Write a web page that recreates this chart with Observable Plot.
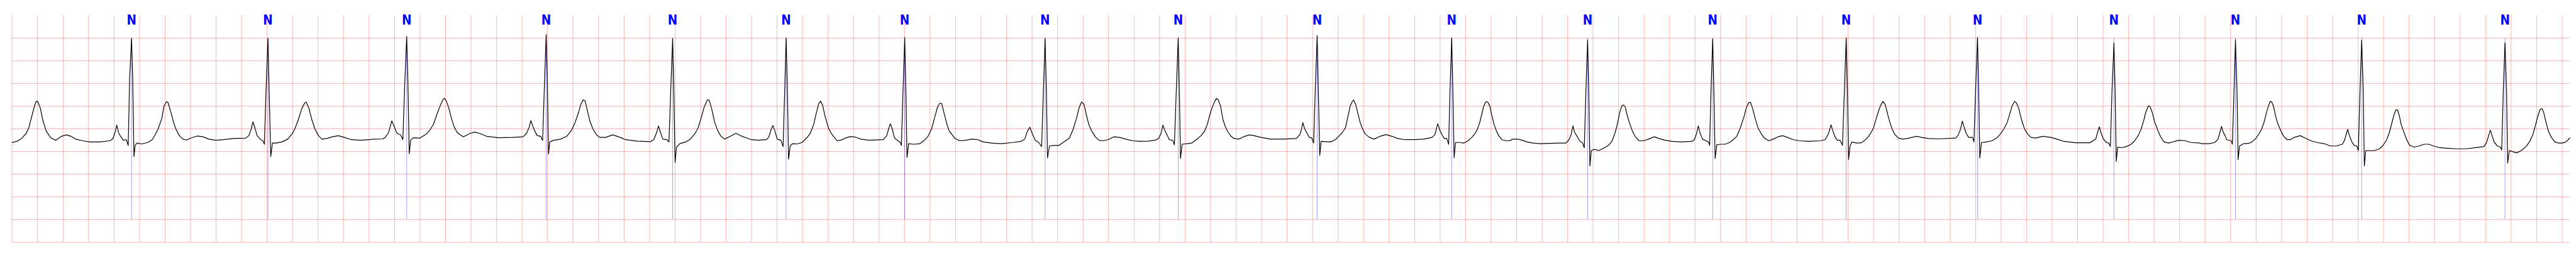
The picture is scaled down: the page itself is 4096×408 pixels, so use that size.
<!DOCTYPE html>
<html>
<head>
<meta charset="utf-8">
<script src="https://cdn.jsdelivr.net/npm/d3@7"></script>
<script src="https://cdn.jsdelivr.net/npm/@observablehq/plot@0.6"></script>
<style>
  html, body { margin: 0; padding: 0; background: #fff; overflow: hidden; }
  #chart svg { display: block; }
</style>
</head>
<body>
<div id="chart"></div>
<script>
// ECG strip: time in seconds, amplitude in mV
const beatTimes = [0.937, 2.007, 3.095, 4.189, 5.181, 6.071, 7.001, 8.102, 9.146, 10.236, 11.291, 12.357, 13.338, 14.385, 15.415, 16.485, 17.438, 18.428, 19.552];
const beatLabels = ["N","N","N","N","N","N","N","N","N","N","N","N","N","N","N","N","N","N","N"];

// grid tick positions (0.2 s, 0.5 mV)
const xGrid = d3.range(0, 101).map(i => i * 0.2);
const yGrid = [-2.5, -2.0, -1.5, -1.0, -0.5, 0.0, 0.5, 1.0, 1.5, 2.0];

const seg1 = [[0.000,-0.302],[0.037,-0.277],[0.074,-0.214],[0.111,-0.101],[0.130,0.013],[0.157,0.302],[0.176,0.504],[0.190,0.612],[0.203,0.592],[0.222,0.453],[0.240,0.202],[0.268,-0.050],[0.305,-0.202],[0.342,-0.252],[0.388,-0.164],[0.425,-0.134],[0.462,-0.164],[0.499,-0.227],[0.555,-0.264],[0.610,-0.290],[0.684,-0.290],[0.767,-0.264],[0.791,-0.214],[0.808,-0.076],[0.821,0.081],[0.837,-0.101],[0.854,-0.176],[0.872,-0.252],[0.896,-0.239],[0.911,-0.365],[0.922,1.108],[0.937,1.990],[0.946,1.108],[0.956,-0.610],[0.965,-0.365],[0.980,-0.315],[1.017,-0.333],[1.063,-0.302],[1.100,-0.239],[1.128,-0.101],[1.146,0.000],[1.174,0.227],[1.192,0.504],[1.211,0.597],[1.223,0.579],[1.247,0.353],[1.266,0.151],[1.284,0.000],[1.312,-0.151],[1.340,-0.227],[1.367,-0.247],[1.404,-0.202],[1.451,-0.159],[1.497,-0.176],[1.543,-0.227],[1.598,-0.252],[1.663,-0.239],[1.737,-0.214],[1.830,-0.207],[1.857,-0.151],[1.876,0.000],[1.889,0.156],[1.904,0.025],[1.922,-0.151],[1.950,-0.239],[1.968,-0.264],[1.979,-0.340],[1.992,0.856],[2.007,1.995],[2.016,0.856],[2.029,-0.610],[2.042,-0.315],[2.070,-0.315],[2.116,-0.290],[2.162,-0.227],[2.199,-0.101],[2.218,0.000],[2.245,0.202],[2.273,0.453],[2.295,0.567],[2.306,0.592],[2.328,0.453],[2.351,0.202],[2.375,0.000],[2.403,-0.151],[2.430,-0.227],[2.467,-0.214],[2.513,-0.176],[2.559,-0.151],[2.606,-0.189],[2.661,-0.239],[2.735,-0.252],[2.805,-0.239]];

const seg2 = [[2.816,-0.232],[2.908,-0.222],[2.927,-0.189],[2.954,-0.076],[2.978,0.176],[3.001,0.025],[3.019,-0.101],[3.047,-0.131],[3.065,-0.239],[3.078,0.856],[3.095,2.040],[3.104,1.108],[3.115,-0.549],[3.126,-0.252],[3.148,-0.196],[3.195,-0.207],[3.250,-0.113],[3.278,-0.025],[3.305,0.101],[3.333,0.327],[3.361,0.529],[3.379,0.642],[3.392,0.673],[3.407,0.605],[3.426,0.453],[3.444,0.252],[3.466,0.050],[3.490,-0.076],[3.518,-0.139],[3.540,-0.176],[3.592,-0.101],[3.629,-0.071],[3.666,-0.101],[3.721,-0.164],[3.814,-0.196],[3.925,-0.189],[4.008,-0.176],[4.035,-0.101],[4.054,0.025],[4.069,0.181],[4.085,0.050],[4.100,-0.050],[4.119,-0.151],[4.146,-0.164],[4.161,-0.259],[4.174,0.856],[4.189,2.078],[4.198,1.108],[4.207,-0.554],[4.217,-0.290],[4.248,-0.252],[4.303,-0.227],[4.350,-0.164],[4.387,-0.038],[4.414,0.126],[4.442,0.353],[4.461,0.542],[4.479,0.637],[4.494,0.617],[4.512,0.403],[4.531,0.176],[4.553,0.013],[4.581,-0.126],[4.608,-0.189],[4.655,-0.189],[4.710,-0.134],[4.756,-0.176],[4.812,-0.239],[4.904,-0.272],[5.006,-0.282],[5.033,-0.239],[5.056,-0.076],[5.070,0.063],[5.085,-0.076],[5.104,-0.227],[5.135,-0.239],[5.152,-0.290],[5.166,0.856],[5.181,1.990],[5.190,0.856],[5.200,-0.743],[5.211,-0.403],[5.237,-0.327],[5.283,-0.290],[5.320,-0.227],[5.357,-0.101],[5.381,0.025],[5.403,0.227],[5.431,0.504],[5.455,0.642],[5.468,0.630],[5.486,0.453],[5.510,0.151],[5.536,-0.050],[5.560,-0.164],[5.588,-0.227],[5.634,-0.164],[5.677,-0.101]];

const seg3 = [[5.724,-0.164],[5.761,-0.202],[5.798,-0.239],[5.853,-0.252],[5.918,-0.239],[5.936,-0.176],[5.955,0.000],[5.968,0.071],[5.983,-0.050],[6.001,-0.227],[6.029,-0.252],[6.047,-0.390],[6.060,0.856],[6.071,2.003],[6.081,0.856],[6.090,-0.668],[6.103,-0.378],[6.121,-0.327],[6.158,-0.333],[6.195,-0.302],[6.232,-0.202],[6.260,-0.101],[6.288,0.101],[6.306,0.327],[6.325,0.542],[6.341,0.612],[6.356,0.529],[6.374,0.302],[6.389,0.151],[6.404,0.013],[6.422,-0.088],[6.445,-0.176],[6.472,-0.264],[6.500,-0.252],[6.537,-0.202],[6.574,-0.171],[6.611,-0.181],[6.657,-0.227],[6.722,-0.252],[6.833,-0.239],[6.860,-0.151],[6.875,0.000],[6.888,0.113],[6.903,0.000],[6.921,-0.202],[6.944,-0.252],[6.966,-0.302],[6.975,-0.365],[6.988,0.856],[7.001,2.015],[7.010,0.856],[7.019,-0.630],[7.032,-0.327],[7.073,-0.340],[7.119,-0.327],[7.156,-0.252],[7.184,-0.164],[7.212,0.000],[7.236,0.252],[7.258,0.479],[7.276,0.562],[7.291,0.559],[7.309,0.353],[7.332,0.101],[7.350,-0.050],[7.372,-0.126],[7.396,-0.214],[7.433,-0.264],[7.480,-0.252],[7.526,-0.227],[7.572,-0.239],[7.618,-0.290],[7.683,-0.315],[7.757,-0.327],[7.849,-0.302],[7.914,-0.277],[7.942,-0.227],[7.964,-0.050],[7.982,0.035],[8.001,-0.101],[8.025,-0.252],[8.052,-0.302],[8.075,-0.390],[8.089,0.856],[8.102,1.990],[8.112,0.856],[8.121,-0.642],[8.136,-0.378],[8.173,-0.365],[8.210,-0.365],[8.256,-0.277],[8.293,-0.202],[8.320,-0.025],[8.348,0.227],[8.370,0.479],[8.389,0.592],[8.407,0.542],[8.426,0.302],[8.444,0.101],[8.468,-0.050],[8.496,-0.176],[8.524,-0.252],[8.548,-0.264]];

const seg4 = [[8.558,-0.264],[8.595,-0.239],[8.641,-0.176],[8.687,-0.189],[8.734,-0.227],[8.789,-0.264],[8.845,-0.277],[8.909,-0.272],[8.965,-0.252],[8.992,-0.214],[9.011,-0.101],[9.026,0.081],[9.039,-0.025],[9.057,-0.126],[9.076,-0.239],[9.103,-0.252],[9.116,-0.353],[9.131,0.856],[9.146,2.003],[9.155,0.856],[9.164,-0.650],[9.177,-0.340],[9.214,-0.327],[9.251,-0.315],[9.288,-0.239],[9.325,-0.151],[9.353,-0.050],[9.375,0.101],[9.393,0.302],[9.412,0.466],[9.430,0.592],[9.445,0.668],[9.460,0.642],[9.478,0.504],[9.497,0.202],[9.519,0.025],[9.538,-0.076],[9.560,-0.164],[9.584,-0.214],[9.621,-0.227],[9.658,-0.176],[9.704,-0.134],[9.741,-0.151],[9.796,-0.189],[9.870,-0.227],[9.963,-0.227],[10.073,-0.214],[10.101,-0.126],[10.114,0.000],[10.123,0.139],[10.138,0.000],[10.157,-0.101],[10.175,-0.189],[10.194,-0.202],[10.208,-0.315],[10.221,0.856],[10.236,2.053],[10.245,0.856],[10.256,-0.584],[10.267,-0.277],[10.304,-0.282],[10.341,-0.290],[10.378,-0.239],[10.406,-0.164],[10.434,-0.076],[10.458,0.025],[10.476,0.252],[10.495,0.504],[10.513,0.610],[10.522,0.635],[10.539,0.529],[10.554,0.353],[10.572,0.151],[10.591,0.000],[10.613,-0.113],[10.646,-0.189],[10.683,-0.227],[10.729,-0.164],[10.776,-0.126],[10.822,-0.164],[10.868,-0.214],[10.924,-0.239],[10.997,-0.239],[11.071,-0.227],[11.136,-0.189],[11.160,-0.126],[11.173,0.025],[11.182,0.113],[11.197,-0.025],[11.216,-0.139],[11.234,-0.214],[11.252,-0.214],[11.267,-0.340],[11.278,0.856],[11.291,2.003],[11.300,0.856],[11.310,-0.635],[11.321,-0.302],[11.358,-0.302],[11.385,-0.315],[11.419,-0.264]];

const seg5 = [[11.448,-0.189],[11.475,-0.101],[11.494,0.000],[11.512,0.151],[11.525,0.302],[11.540,0.479],[11.555,0.579],[11.564,0.600],[11.577,0.579],[11.592,0.479],[11.605,0.302],[11.623,0.101],[11.642,-0.050],[11.660,-0.151],[11.684,-0.239],[11.716,-0.264],[11.743,-0.264],[11.771,-0.227],[11.808,-0.227],[11.845,-0.252],[11.882,-0.290],[11.928,-0.315],[11.984,-0.327],[12.057,-0.322],[12.131,-0.315],[12.187,-0.315],[12.205,-0.264],[12.224,-0.164],[12.242,0.063],[12.255,-0.076],[12.276,-0.176],[12.298,-0.277],[12.316,-0.302],[12.331,-0.416],[12.344,0.856],[12.357,1.960],[12.366,0.856],[12.375,-0.819],[12.386,-0.479],[12.409,-0.453],[12.446,-0.479],[12.483,-0.428],[12.520,-0.365],[12.547,-0.277],[12.571,-0.101],[12.590,0.101],[12.608,0.353],[12.627,0.516],[12.640,0.524],[12.652,0.479],[12.667,0.302],[12.686,0.126],[12.708,-0.050],[12.732,-0.176],[12.760,-0.264],[12.797,-0.264],[12.834,-0.227],[12.880,-0.176],[12.917,-0.214],[12.963,-0.252],[13.018,-0.277],[13.092,-0.290],[13.176,-0.277],[13.194,-0.239],[13.212,-0.101],[13.225,0.063],[13.240,-0.101],[13.258,-0.227],[13.286,-0.264],[13.305,-0.290],[13.314,-0.365],[13.325,0.856],[13.338,1.985],[13.347,0.856],[13.357,-0.655],[13.370,-0.353],[13.397,-0.340],[13.434,-0.340],[13.471,-0.302],[13.499,-0.239],[13.527,-0.164],[13.545,-0.050],[13.564,0.101],[13.582,0.252],[13.601,0.453],[13.619,0.574],[13.634,0.587],[13.651,0.453],[13.669,0.252],[13.693,0.025],[13.717,-0.101],[13.743,-0.202],[13.776,-0.264],[13.813,-0.227],[13.850,-0.176],[13.887,-0.151],[13.924,-0.189],[13.970,-0.239],[14.016,-0.264],[14.090,-0.277],[14.183,-0.264],[14.220,-0.239],[14.247,-0.101],[14.266,0.088],[14.281,-0.050]];

const seg6 = [[14.297,-0.176],[14.315,-0.252],[14.337,-0.252],[14.356,-0.365],[14.371,0.856],[14.385,2.003],[14.395,0.856],[14.404,-0.675],[14.415,-0.378],[14.430,-0.290],[14.467,-0.315],[14.504,-0.307],[14.531,-0.252],[14.559,-0.176],[14.581,-0.076],[14.600,0.025],[14.618,0.202],[14.637,0.378],[14.655,0.516],[14.674,0.605],[14.692,0.529],[14.711,0.315],[14.729,0.126],[14.748,-0.025],[14.766,-0.121],[14.794,-0.202],[14.827,-0.227],[14.864,-0.214],[14.901,-0.189],[14.938,-0.164],[14.975,-0.189],[15.030,-0.214],[15.113,-0.222],[15.243,-0.202],[15.261,-0.151],[15.280,-0.025],[15.296,0.171],[15.311,0.025],[15.326,-0.101],[15.345,-0.189],[15.376,-0.189],[15.387,-0.290],[15.400,0.856],[15.415,2.015],[15.424,0.856],[15.433,-0.642],[15.446,-0.302],[15.483,-0.290],[15.529,-0.264],[15.566,-0.202],[15.598,-0.101],[15.622,0.000],[15.646,0.126],[15.668,0.327],[15.686,0.504],[15.705,0.605],[15.720,0.574],[15.738,0.453],[15.760,0.202],[15.783,0.000],[15.807,-0.113],[15.834,-0.189],[15.871,-0.202],[15.927,-0.164],[15.991,-0.189],[16.037,-0.227],[16.093,-0.277],[16.185,-0.307],[16.296,-0.307],[16.342,-0.227],[16.357,-0.076],[16.370,0.045],[16.385,-0.101],[16.403,-0.227],[16.426,-0.302],[16.444,-0.315],[16.457,-0.390],[16.470,0.856],[16.485,1.889],[16.494,0.856],[16.503,-0.718],[16.514,-0.403],[16.546,-0.416],[16.583,-0.390],[16.620,-0.340],[16.647,-0.264],[16.675,-0.151],[16.699,0.000],[16.718,0.176],[16.736,0.378],[16.755,0.504],[16.767,0.499],[16.786,0.353],[16.804,0.151],[16.828,-0.025],[16.851,-0.176],[16.878,-0.290],[16.915,-0.315],[16.961,-0.277],[16.998,-0.252],[17.045,-0.264],[17.091,-0.302],[17.161,-0.315]];

const seg7 = [[17.172,-0.327],[17.229,-0.327],[17.276,-0.302],[17.301,-0.227],[17.314,-0.101],[17.329,0.055],[17.342,-0.076],[17.357,-0.151],[17.370,-0.239],[17.404,-0.264],[17.414,-0.340],[17.427,0.856],[17.438,1.965],[17.450,0.856],[17.459,-0.680],[17.470,-0.378],[17.502,-0.327],[17.540,-0.322],[17.568,-0.290],[17.597,-0.214],[17.625,-0.101],[17.644,0.000],[17.663,0.151],[17.681,0.353],[17.697,0.504],[17.710,0.605],[17.723,0.592],[17.738,0.479],[17.753,0.277],[17.772,0.101],[17.791,-0.025],[17.813,-0.151],[17.842,-0.239],[17.870,-0.239],[17.898,-0.189],[17.946,-0.151],[17.983,-0.202],[18.030,-0.264],[18.078,-0.302],[18.134,-0.327],[18.181,-0.378],[18.228,-0.378],[18.276,-0.340],[18.294,-0.252],[18.308,-0.101],[18.319,-0.013],[18.332,-0.151],[18.351,-0.290],[18.370,-0.365],[18.389,-0.378],[18.402,-0.479],[18.415,0.856],[18.428,1.952],[18.440,0.856],[18.449,-0.819],[18.460,-0.479],[18.492,-0.479],[18.530,-0.479],[18.568,-0.441],[18.596,-0.365],[18.624,-0.239],[18.643,-0.101],[18.662,0.101],[18.681,0.302],[18.696,0.416],[18.709,0.416],[18.722,0.302],[18.737,0.101],[18.756,-0.050],[18.779,-0.227],[18.804,-0.365],[18.841,-0.403],[18.879,-0.378],[18.917,-0.340],[18.954,-0.340],[18.992,-0.378],[19.039,-0.416],[19.096,-0.428],[19.171,-0.441],[19.247,-0.441],[19.322,-0.416],[19.388,-0.390],[19.407,-0.302],[19.426,-0.126],[19.437,-0.030],[19.450,-0.151],[19.469,-0.302],[19.492,-0.378],[19.515,-0.403],[19.526,-0.466],[19.539,0.856],[19.552,1.894],[19.564,0.856],[19.573,-0.756],[19.586,-0.479],[19.614,-0.504],[19.643,-0.529],[19.680,-0.479],[19.718,-0.390],[19.746,-0.277],[19.771,-0.126],[19.793,0.101],[19.812,0.302],[19.827,0.428],[19.841,0.448],[19.854,0.378],[19.873,0.151],[19.892,-0.050],[19.916,-0.189],[19.944,-0.290],[19.973,-0.315],[20.001,-0.315],[20.029,-0.290],[20.061,-0.202]];

const trace = [...seg1, ...seg2, ...seg3, ...seg4, ...seg5, ...seg6, ...seg7];

const chart = Plot.plot({
  width: 4096,
  height: 408,
  marginLeft: 18.7,
  marginRight: 10,
  marginTop: 23.9,
  marginBottom: 23.9,
  style: {background: "white"},
  x: {domain: [0, 20.062], axis: null},
  y: {domain: [-2.5, 2.5], axis: null},
  marks: [
    Plot.ruleX(xGrid, {stroke: "red", strokeOpacity: 0.3, strokeWidth: 1}),
    Plot.ruleY(yGrid, {stroke: "red", strokeOpacity: 0.3, strokeWidth: 1}),
    Plot.ruleX(beatTimes, {y1: -2, y2: 2, stroke: "blue", strokeOpacity: 0.55, strokeWidth: 0.7}),
    Plot.line(trace, {x: d => d[0], y: d => d[1], stroke: "black", strokeWidth: 1.2, strokeLinejoin: "round"}),
    Plot.text(beatTimes, {
      x: d => d, y: 2.5,
      text: (d, i) => beatLabels[i],
      fill: "blue", fontSize: 20.5, fontWeight: "bold",
      fontFamily: "'Liberation Sans Narrow', 'DejaVu Sans Condensed', 'Liberation Sans', sans-serif",
      lineAnchor: "top"
    })
  ]
});
document.getElementById("chart").appendChild(chart);
</script>
</body>
</html>
